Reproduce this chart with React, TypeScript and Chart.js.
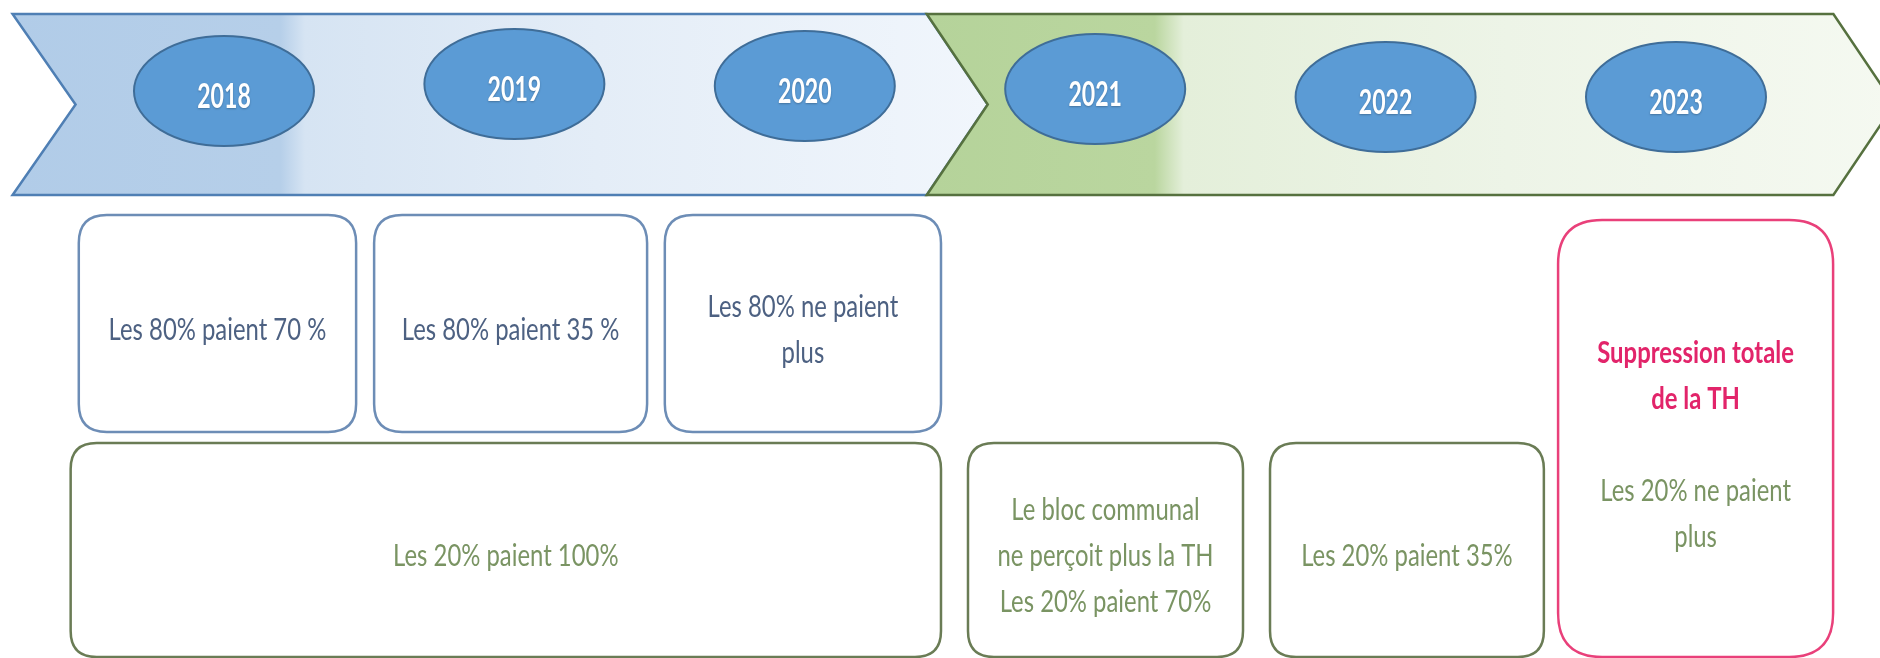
import React, { useEffect, useRef } from 'react';
import { Chart, registerables } from 'chart.js';

Chart.register(...registerables);

// ---------- data ----------
const years = ['2018', '2019', '2020', '2021', '2022', '2023'];
const yearLevels = [91, 84, 86, 89, 97, 97];

const periodNames = ['2018-2020', '2021-2023'];
const periodFrom = [2017.272, 2020.420];
const periodTo = [2020.420, 2023.542];

const boxTitles: string[][] = [[], [], [], [], [], [], ['Suppression totale', 'de la TH']];
const boxLines: string[][] = [
  ['Les 80% paient 70 %'],
  ['Les 80% paient 35 %'],
  ['Les 80% ne paient', 'plus'],
  ['Les 20% paient 100%'],
  ['Le bloc communal', 'ne perçoit plus la TH', 'Les 20% paient 70%'],
  ['Les 20% paient 35%'],
  ['Les 20% ne paient', 'plus'],
];
const boxFrom = [2017.500, 2018.517, 2019.518, 2017.472, 2020.562, 2021.602, 2022.594];
const boxTo = [2018.455, 2019.457, 2020.469, 2020.469, 2021.509, 2022.545, 2023.541];
const boxRows = ['top', 'top', 'top', 'bottom', 'bottom', 'bottom', 'full'];

// ---------- styles / layout ----------
const W = 1880;
const H = 658;
const X_MIN = 2017.2287;
const X_MAX = 2023.7025;
const ROWS: Record<string, [number, number]> = {
  top: [215, 432],
  bottom: [443, 657],
  full: [220, 657],
};
const BAND_TOP = 14;
const BAND_BOTTOM = 195;
const TIP = 61;
const ELL_RX = 90;
const ELL_RY = 55;
const SX = 0.77;
const FONT = 'Lato, "Open Sans", sans-serif';

const STYLE: Record<string, { border: string; text: string; radius: number }> = {
  top: { border: '#6d8db6', text: '#4d6182', radius: 28 },
  bottom: { border: '#6a7c55', text: '#7a9463', radius: 26 },
  full: { border: '#e9407a', text: '#7a9463', radius: 44 },
};
const TITLE_COLOR = '#e2246a';

function textLine(ctx: CanvasRenderingContext2D, s: string, x: number, base: number, font: string, color: string, sx: number) {
  ctx.save();
  ctx.translate(x, base);
  ctx.scale(sx, 1);
  ctx.font = font;
  ctx.fillStyle = color;
  ctx.textAlign = 'center';
  ctx.textBaseline = 'alphabetic';
  ctx.fillText(s, 0, 0);
  ctx.restore();
}

function roundRect(ctx: CanvasRenderingContext2D, x0: number, y0: number, x1: number, y1: number, r: number) {
  ctx.beginPath();
  ctx.moveTo(x0 + r, y0);
  ctx.lineTo(x1 - r, y0);
  ctx.quadraticCurveTo(x1, y0, x1, y0 + r);
  ctx.lineTo(x1, y1 - r);
  ctx.quadraticCurveTo(x1, y1, x1 - r, y1);
  ctx.lineTo(x0 + r, y1);
  ctx.quadraticCurveTo(x0, y1, x0, y1 - r);
  ctx.lineTo(x0, y0 + r);
  ctx.quadraticCurveTo(x0, y0, x0 + r, y0);
  ctx.closePath();
}

const timelinePlugin = {
  id: 'timeline',
  beforeDatasetsDraw(chart: any) {
    const ctx: CanvasRenderingContext2D = chart.ctx;
    const xs = chart.scales.x;
    const ys = chart.scales.y;
    const top = ys.getPixelForValue(BAND_TOP);
    const bot = ys.getPixelForValue(BAND_BOTTOM);
    const mid = (top + bot) / 2;

    // period chevrons
    periodNames.forEach((_, i) => {
      const x0 = xs.getPixelForValue(periodFrom[i]);
      const x1 = xs.getPixelForValue(periodTo[i]);
      const g = ctx.createLinearGradient(x0, 0, x1 + TIP, 0);
      const span = x1 + TIP - x0;
      const solid = (i === 0 ? 268 : 228) / span;
      if (i === 0) {
        g.addColorStop(0, '#b1cce8');
        g.addColorStop(solid, '#b6cfe9');
        g.addColorStop(solid + 0.025, '#d6e4f3');
        g.addColorStop(0.6, '#e4edf7');
        g.addColorStop(1, '#f1f6fc');
      } else {
        g.addColorStop(0, '#b5d39a');
        g.addColorStop(solid, '#bad69f');
        g.addColorStop(solid + 0.03, '#e4efda');
        g.addColorStop(0.6, '#edf4e7');
        g.addColorStop(1, '#f5f9f1');
      }
      ctx.save();
      ctx.beginPath();
      ctx.moveTo(x0, top);
      ctx.lineTo(x1, top);
      ctx.lineTo(x1 + TIP, mid);
      ctx.lineTo(x1, bot);
      ctx.lineTo(x0, bot);
      ctx.lineTo(x0 + TIP + (i === 0 ? 2 : 0), mid);
      ctx.closePath();
      ctx.fillStyle = g;
      ctx.fill();
      ctx.lineWidth = 2.5;
      ctx.lineJoin = 'miter';
      ctx.strokeStyle = i === 0 ? '#4f7fb4' : '#56713f';
      ctx.stroke();
      ctx.restore();
    });

    // year ellipses from dataset points
    const meta = chart.getDatasetMeta(0);
    meta.data.forEach((pt: any, i: number) => {
      ctx.save();
      ctx.beginPath();
      ctx.ellipse(pt.x, pt.y, ELL_RX, ELL_RY, 0, 0, Math.PI * 2);
      ctx.fillStyle = '#5b9bd5';
      ctx.fill();
      ctx.lineWidth = 2;
      ctx.strokeStyle = '#3f6d98';
      ctx.stroke();
      ctx.restore();
      ctx.save();
      ctx.shadowColor = 'rgba(0,0,0,0.25)';
      ctx.shadowBlur = 2;
      ctx.shadowOffsetY = 1;
      textLine(ctx, years[i], pt.x, pt.y + 17, `bold 35px ${FONT}`, '#ffffff', 0.66);
      ctx.restore();
    });

    // statement boxes
    boxLines.forEach((lines, i) => {
      const row = ROWS[boxRows[i]];
      const st = STYLE[boxRows[i]];
      const x0 = xs.getPixelForValue(boxFrom[i]);
      const x1 = xs.getPixelForValue(boxTo[i]);
      const y0 = ys.getPixelForValue(row[0]);
      const y1 = ys.getPixelForValue(row[1]);
      ctx.save();
      roundRect(ctx, x0, y0, x1, y1, st.radius);
      ctx.fillStyle = '#ffffff';
      ctx.fill();
      ctx.lineWidth = 2.5;
      ctx.strokeStyle = st.border;
      ctx.stroke();
      ctx.restore();

      const titles = boxTitles[i];
      const all = titles.length ? [...titles, '', ...lines] : lines;
      const lh = 46;
      const cx = (x0 + x1) / 2;
      const cy = (y0 + y1) / 2 + 5;
      const startY = cy - ((all.length - 1) * lh) / 2;
      all.forEach((s, k) => {
        if (!s) return;
        const isTitle = k < titles.length;
        textLine(
          ctx,
          s,
          cx,
          startY + k * lh + 11,
          `${isTitle ? 'bold ' : ''}31px ${FONT}`,
          isTitle ? TITLE_COLOR : st.text,
          SX,
        );
      });
    });
  },
};

export default function App() {
  const ref = useRef<HTMLCanvasElement>(null);
  useEffect(() => {
    const canvas = ref.current;
    if (!canvas) return;
    const chart = new Chart(canvas, {
      type: 'scatter',
      data: {
        datasets: [
          {
            label: 'Années',
            data: years.map((y, i) => ({ x: Number(y), y: yearLevels[i] })),
            pointRadius: 0,
            pointHoverRadius: 0,
          },
        ],
      },
      options: {
        responsive: false,
        animation: false,
        events: [],
        layout: { padding: 0 },
        plugins: {
          legend: { display: false },
          tooltip: { enabled: false },
          title: { display: false },
        },
        scales: {
          x: { type: 'linear', display: false, min: X_MIN, max: X_MAX },
          y: { type: 'linear', display: false, min: 0, max: H, reverse: true },
        },
      },
      plugins: [timelinePlugin],
    });
    return () => chart.destroy();
  }, []);
  return (
    <div style={{ position: 'absolute', left: 0, top: 0, width: W, height: H, background: '#ffffff' }}>
      <canvas ref={ref} width={W} height={H} style={{ display: 'block' }} />
    </div>
  );
}
